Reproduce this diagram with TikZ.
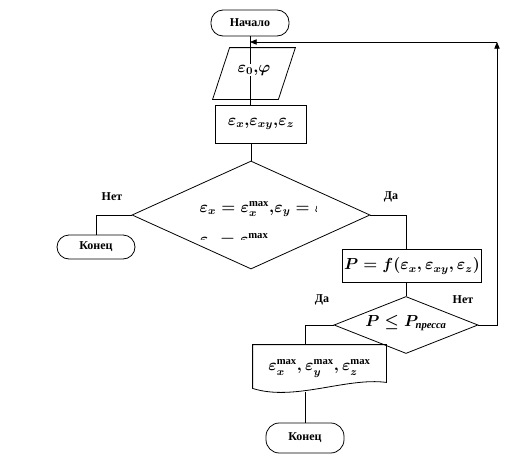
\documentclass[tikz,border=0pt]{standalone}
\usepackage{amsmath,amssymb}
\usepackage{fontspec}
\setmainfont{Liberation Serif}
\usetikzlibrary{arrows.meta,shapes.geometric}

\begin{document}
\begin{tikzpicture}[
  x=0.75pt,y=-0.75pt,
  >={Triangle[length=5pt,width=4pt]},
  line width=0.6pt,
  term/.style={draw,rounded corners=9pt,minimum width=58.5pt,
    minimum height=18pt,inner sep=0pt,font=\bfseries\fontsize{9}{10}\selectfont},
  blk/.style={draw,inner sep=0pt},
  mtext/.style={inner sep=1pt,font=\fontsize{12}{14}\selectfont\boldmath},
  lbl/.style={font=\bfseries\fontsize{9}{10}\selectfont},
  arr/.style={->}
]
\useasboundingbox (0,0) rectangle (510,471);

% main column
\node[term,minimum height=19.5pt] (start) at (250,23) {Начало};
\node[minimum width=61.5pt,minimum height=38.25pt,inner sep=0pt] (para) at (254,73.5) {};
\node[blk,minimum width=68.25pt,minimum height=28.5pt,mtext] (strain) at (261,124)
  {$\varepsilon_x{,}\varepsilon_{xy}{,}\varepsilon_z$};
\node[diamond,draw,minimum width=178.5pt,minimum height=81pt,inner sep=0pt]
  (check) at (251,215) {};
\node[term] (stopA) at (96,247) {Конец};
\node[blk,minimum width=97.5pt,minimum height=24.75pt,mtext] (force) at (412,266)
  {$P=f(\varepsilon_x{,}\,\varepsilon_{xy}{,}\,\varepsilon_z)$};
\node[diamond,draw,minimum width=108pt,minimum height=42.75pt,inner sep=0pt]
  (press) at (406,325) {};
\node[mtext] (presstext) at (406,323)
  {$P\leq P_{\text{\bfseries\itshape\fontsize{8}{9}\selectfont пресса}}$};
\node[minimum width=99.75pt,minimum height=35.25pt,inner sep=0pt,mtext] (result)
  at (319.5,368.5)
  {$\varepsilon_x^{\mathrm{max}}{,}\,\varepsilon_y^{\mathrm{max}}{,}\,\varepsilon_z^{\mathrm{max}}$};
\node[term,minimum height=22.5pt,rounded corners=10pt] (stopB) at (305,438) {Конец};

% slanted input block and wavy output block
\draw ([xshift=12.75pt]para.north west) -- (para.north east)
  -- ([xshift=-12.75pt]para.south east) -- (para.south west) -- cycle;
\draw (result.north west) -- (result.north east) -- ([yshift=7.5pt]result.south east)
  .. controls +(-30pt,4pt) and +(31pt,-10pt) .. ([yshift=3pt]result.south west) -- cycle;

% connectors
\coordinate (loop) at (497,42);
\coordinate (join) at (start.south |- loop);
\draw (start.south) -- (start.south |- strain.north);
\node[mtext,fill=white] (paratext) at (254,70) {$\varepsilon_0{,}\varphi$};
\draw (check.north |- strain.south) -- (check.north);
\draw (check.west) -| (stopA.north);
\draw (check.east) -| (press.north |- force.north);
\draw (press.north |- force.south) -- (press.north);
\draw (press.west) -| (stopB.north |- result.north);
\draw (stopB.north |- result.south) -- (stopB.north);
\draw[arr] (press.east) -| (loop);
\draw[arr] (loop) -- (join);

% truncated condition text
\begin{scope}
  \clip (190,196) rectangle (316,239.5);
  \node[mtext,anchor=base west] (condA) at (198,212)
    {$\varepsilon_x=\varepsilon_x^{\mathrm{max}}{,}\varepsilon_y=\varepsilon_y^{\mathrm{max}}{,}$};
  \node[mtext,anchor=base west] (condB) at (198,244.5)
    {$\varepsilon_z=\varepsilon_z^{\mathrm{max}}$};
\end{scope}

% branch labels
\node[lbl] (noA) at (112,197) {Нет};
\node[lbl] (yesA) at (391,197) {Да};
\node[lbl] (yesB) at (322,300) {Да};
\node[lbl] (noB) at (463,300) {Нет};
\end{tikzpicture}
\end{document}
